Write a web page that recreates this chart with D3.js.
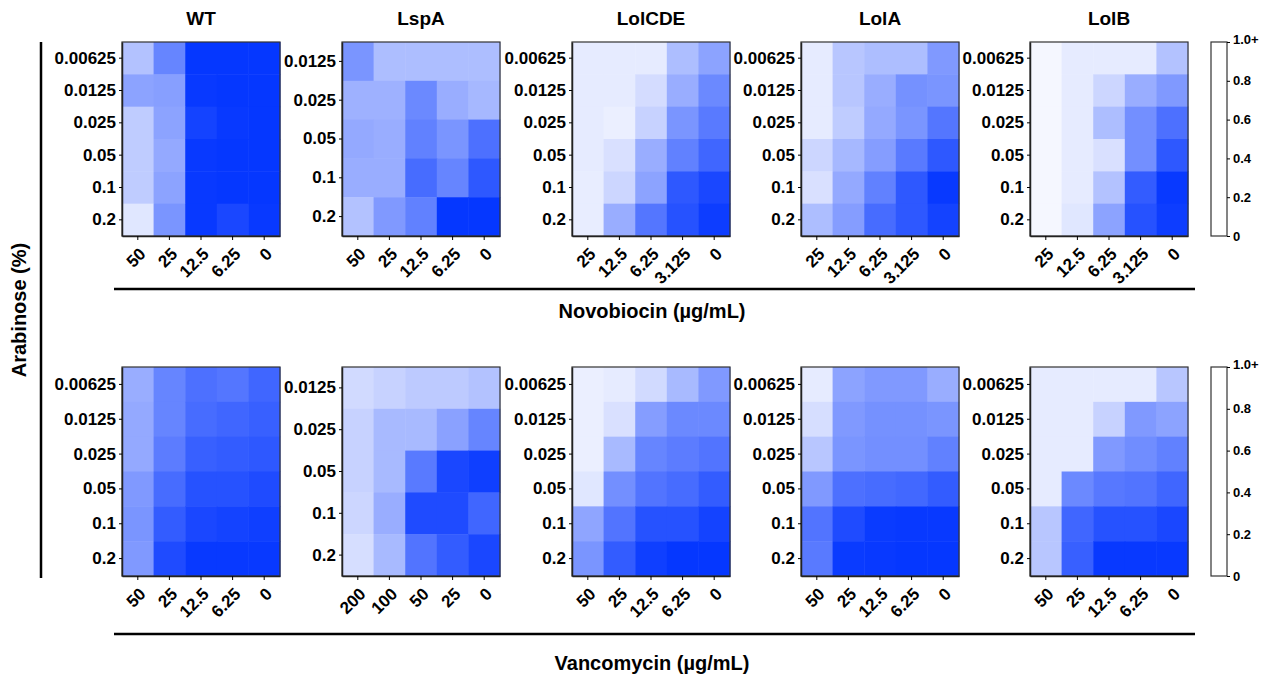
<!DOCTYPE html>
<html>
<head>
<meta charset="utf-8">
<script src="https://cdn.jsdelivr.net/npm/d3@7"></script>
<style>
  body { margin: 0; background: #fff; }
  svg { font-family: "Liberation Sans", Arial, sans-serif; font-weight: bold; }
</style>
</head>
<body>
<svg id="chart" width="1266" height="676"></svg>
<script>
// strains across the columns of panels
const strains = ["WT", "LspA", "LolCDE", "LolA", "LolB"];

// arabinose (%) rows
const araRows6 = ["0.00625", "0.0125", "0.025", "0.05", "0.1", "0.2"];
const araRows5 = ["0.0125", "0.025", "0.05", "0.1", "0.2"];

// antibiotic columns (ug/mL)
const novoColsWT = ["50", "25", "12.5", "6.25", "0"];
const novoColsLol = ["25", "12.5", "6.25", "3.125", "0"];
const vancoCols = ["50", "25", "12.5", "6.25", "0"];
const vancoColsLspA = ["200", "100", "50", "25", "0"];

// relative growth (1 = white, 0 = full blue), rows top->bottom
const novoWT = [
  [0.70, 0.40, 0.02, 0.02, 0.02],
  [0.55, 0.53, 0.03, 0.02, 0.02],
  [0.75, 0.55, 0.08, 0.03, 0.02],
  [0.75, 0.58, 0.03, 0.02, 0.02],
  [0.75, 0.55, 0.03, 0.02, 0.02],
  [0.88, 0.48, 0.03, 0.10, 0.03]
];
const novoLspA = [
  [0.48, 0.68, 0.68, 0.68, 0.68],
  [0.62, 0.62, 0.42, 0.60, 0.65],
  [0.58, 0.60, 0.38, 0.48, 0.30],
  [0.60, 0.60, 0.28, 0.40, 0.18],
  [0.70, 0.50, 0.38, 0.02, 0.02]
];
const novoLolCDE = [
  [0.90, 0.90, 0.90, 0.68, 0.55],
  [0.90, 0.90, 0.83, 0.60, 0.42],
  [0.90, 0.92, 0.78, 0.48, 0.35],
  [0.90, 0.85, 0.60, 0.38, 0.25],
  [0.91, 0.80, 0.55, 0.18, 0.10],
  [0.91, 0.60, 0.33, 0.15, 0.05]
];
const novoLolA = [
  [0.90, 0.72, 0.68, 0.68, 0.50],
  [0.90, 0.72, 0.60, 0.46, 0.48],
  [0.90, 0.75, 0.58, 0.48, 0.33],
  [0.80, 0.65, 0.52, 0.35, 0.18],
  [0.85, 0.58, 0.38, 0.18, 0.03],
  [0.68, 0.52, 0.28, 0.18, 0.08]
];
const novoLolB = [
  [0.96, 0.90, 0.90, 0.90, 0.70],
  [0.96, 0.90, 0.80, 0.60, 0.50],
  [0.96, 0.90, 0.68, 0.45, 0.30],
  [0.96, 0.90, 0.85, 0.45, 0.18],
  [0.96, 0.90, 0.70, 0.20, 0.03],
  [0.96, 0.88, 0.55, 0.15, 0.05]
];
const vancoWT = [
  [0.60, 0.40, 0.30, 0.33, 0.25],
  [0.58, 0.40, 0.28, 0.25, 0.22],
  [0.58, 0.36, 0.22, 0.20, 0.18],
  [0.50, 0.28, 0.15, 0.15, 0.12],
  [0.48, 0.20, 0.10, 0.08, 0.06],
  [0.50, 0.12, 0.03, 0.03, 0.03]
];
const vancoLspA = [
  [0.82, 0.78, 0.74, 0.74, 0.70],
  [0.78, 0.66, 0.66, 0.54, 0.40],
  [0.78, 0.66, 0.35, 0.10, 0.06],
  [0.80, 0.60, 0.12, 0.12, 0.25],
  [0.84, 0.66, 0.32, 0.20, 0.10]
];
const vancoLolCDE = [
  [0.92, 0.90, 0.82, 0.66, 0.50],
  [0.92, 0.85, 0.52, 0.42, 0.42],
  [0.92, 0.66, 0.40, 0.36, 0.32],
  [0.88, 0.45, 0.32, 0.28, 0.20],
  [0.56, 0.32, 0.15, 0.15, 0.08],
  [0.48, 0.20, 0.06, 0.02, 0.02]
];
const vancoLolA = [
  [0.90, 0.55, 0.50, 0.50, 0.60],
  [0.84, 0.50, 0.46, 0.46, 0.48],
  [0.72, 0.48, 0.45, 0.45, 0.38],
  [0.50, 0.30, 0.28, 0.26, 0.20],
  [0.32, 0.12, 0.04, 0.03, 0.03],
  [0.35, 0.04, 0.03, 0.02, 0.02]
];
const vancoLolB = [
  [0.90, 0.90, 0.90, 0.90, 0.72],
  [0.90, 0.90, 0.78, 0.50, 0.55],
  [0.90, 0.90, 0.50, 0.44, 0.38],
  [0.90, 0.42, 0.34, 0.32, 0.25],
  [0.72, 0.25, 0.15, 0.15, 0.10],
  [0.72, 0.22, 0.03, 0.03, 0.03]
];

const colorbarTicks = [0, 0.2, 0.4, 0.6, 0.8, 1.0];

// layout
const panelLeft = [122, 342, 572, 801, 1030];
const panelW = 158;
const rowsLayout = [
  { top: 42, h: 194, label: "Novobiocin (µg/mL)", lineY: 289, labelY: 311,
    cols: [novoColsWT, novoColsWT, novoColsLol, novoColsLol, novoColsLol],
    rows: [araRows6, araRows5, araRows6, araRows6, araRows6],
    values: [novoWT, novoLspA, novoLolCDE, novoLolA, novoLolB] },
  { top: 367, h: 209, label: "Vancomycin (µg/mL)", lineY: 634, labelY: 663,
    cols: [vancoCols, vancoColsLspA, vancoCols, vancoCols, vancoCols],
    rows: [araRows6, araRows5, araRows6, araRows6, araRows6],
    values: [vancoWT, vancoLspA, vancoLolCDE, vancoLolA, vancoLolB] }
];

const svg = d3.select("#chart");
const color = d3.scaleLinear().domain([0, 1]).range(["#0033ff", "#ffffff"]).clamp(true);

function styleTicks(sel, size) {
  sel.style("font-size", size + "px")
    .style("font-weight", "bold")
    .style("font-family", "Liberation Sans, Arial, sans-serif")
    .attr("fill", "#000");
}

// strain titles
svg.selectAll("text.title")
  .data(strains)
  .join("text")
  .attr("class", "title")
  .attr("x", (d, i) => panelLeft[i] + panelW / 2)
  .attr("y", 25)
  .attr("text-anchor", "middle")
  .style("font-size", "19px")
  .text(d => d);

rowsLayout.forEach(row => {
  strains.forEach((s, i) => {
    const g = svg.append("g")
      .attr("transform", `translate(${panelLeft[i]},${row.top})`);

    const x = d3.scaleBand().domain(row.cols[i]).range([0, panelW]);
    const y = d3.scaleBand().domain(row.rows[i]).range([0, row.h]);

    const cells = [];
    row.values[i].forEach((r, ri) => r.forEach((v, ci) => {
      cells.push({ row: row.rows[i][ri], col: row.cols[i][ci], v });
    }));

    g.selectAll("rect.cell")
      .data(cells)
      .join("rect")
      .attr("class", "cell")
      .attr("x", d => x(d.col))
      .attr("y", d => y(d.row))
      .attr("width", x.bandwidth() + 0.5)
      .attr("height", y.bandwidth() + 0.5)
      .attr("fill", d => color(d.v));

    // frame
    g.append("rect")
      .attr("width", panelW)
      .attr("height", row.h)
      .attr("fill", "none")
      .attr("stroke", "#333")
      .attr("stroke-width", 1.2);

    const yAxis = g.append("g")
      .call(d3.axisLeft(y).tickSize(3).tickPadding(3).tickSizeOuter(0));
    yAxis.select(".domain").attr("stroke", "#222").attr("stroke-width", 1.5);
    styleTicks(yAxis.selectAll("text"), 17);

    const xAxis = g.append("g")
      .attr("transform", `translate(0,${row.h})`)
      .call(d3.axisBottom(x).tickSize(4).tickSizeOuter(0));
    xAxis.select(".domain").attr("stroke", "#222").attr("stroke-width", 1.5);
    xAxis.selectAll("text")
      .attr("x", 0)
      .attr("y", 0)
      .attr("dy", 0)
      .attr("transform", "translate(9,19) rotate(-45)")
      .attr("text-anchor", "end");
    styleTicks(xAxis.selectAll("text"), 17);
  });

  // colorbar (rendered white in the source figure)
  const cbX = 1211, cbW = 16;
  const cb = d3.scaleLinear().domain([0, 1]).range([row.top + row.h, row.top]);
  svg.append("rect")
    .attr("x", cbX)
    .attr("y", cb(1))
    .attr("width", cbW)
    .attr("height", cb(0) - cb(1))
    .attr("fill", "#fff")
    .attr("stroke", "#333")
    .attr("stroke-width", 1.2);
  const cbAxis = svg.append("g")
    .attr("transform", `translate(${cbX + cbW},0)`)
    .call(d3.axisRight(cb).tickValues(colorbarTicks).tickSize(3).tickPadding(3)
      .tickFormat(d => d === 1 ? "1.0+" : d === 0 ? "0" : d3.format(".1f")(d)));
  cbAxis.select(".domain").remove();
  styleTicks(cbAxis.selectAll("text"), 13);
  cbAxis.selectAll(".tick").filter(d => d === 1).select("text").attr("dy", "0.1em");

  // antibiotic rule and label
  svg.append("line")
    .attr("x1", 114).attr("x2", 1195)
    .attr("y1", row.lineY).attr("y2", row.lineY)
    .attr("stroke", "#000")
    .attr("stroke-width", 2.5);
  svg.append("text")
    .attr("x", 652)
    .attr("y", row.labelY)
    .attr("dy", "0.35em")
    .attr("text-anchor", "middle")
    .style("font-size", "20px")
    .text(row.label);
});

// arabinose axis
svg.append("line")
  .attr("x1", 41).attr("x2", 41)
  .attr("y1", 42).attr("y2", 578)
  .attr("stroke", "#000")
  .attr("stroke-width", 2.5);
svg.append("text")
  .attr("transform", "translate(19,310) rotate(-90)")
  .attr("text-anchor", "middle")
  .attr("dy", "0.35em")
  .style("font-size", "20px")
  .text("Arabinose (%)");
</script>
</body>
</html>
